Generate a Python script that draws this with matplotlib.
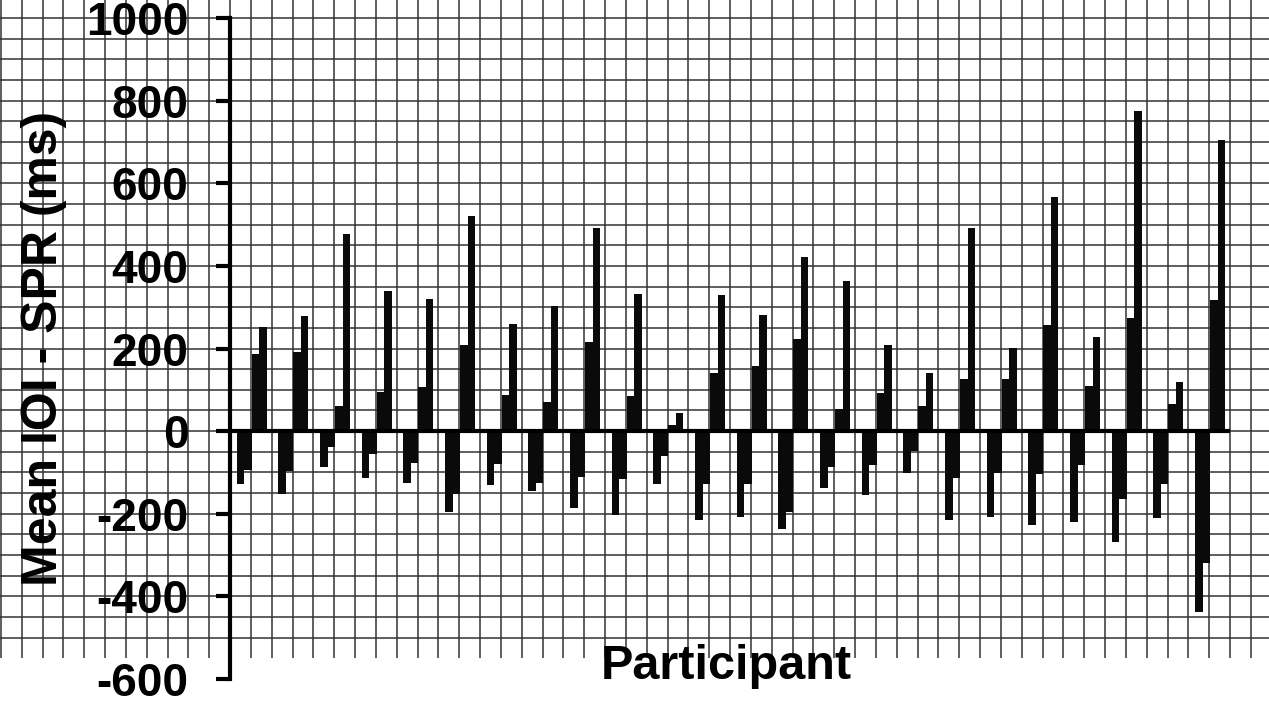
import numpy as np
import matplotlib
matplotlib.use('Agg')
import matplotlib.pyplot as plt

plt.rcParams['font.family'] = ['Liberation Sans', 'DejaVu Sans']
plt.rcParams['font.weight'] = 'bold'
plt.rcParams['axes.unicode_minus'] = False

# one group of four bars per participant
participants = list(range(1, 25))
bar1 = [-128, -153, -86, -113, -125, -195, -131, -144, -185, -203, -129, -215,
        -207, -236, -137, -155, -102, -214, -207, -228, -220, -268, -211, -437]
bar2 = [-94, -96, -38, -56, -77, -151, -80, -125, -111, -116, -61, -129,
        -128, -195, -88, -81, -48, -113, -101, -104, -82, -164, -128, -319]
bar3 = [186, 192, 61, 94, 107, 208, 87, 71, 216, 85, 15, 141,
        157, 223, 54, 93, 62, 125, 127, 258, 109, 273, 65, 317]
bar4 = [252, 279, 477, 339, 320, 521, 259, 303, 491, 332, 44, 329,
        280, 422, 363, 209, 141, 491, 202, 567, 228, 775, 119, 705]
yticks = [-600, -400, -200, 0, 200, 400, 600, 800, 1000]

fig = plt.figure(figsize=(12.69, 7.16), dpi=100)
ax = fig.add_axes([230 / 1269, 1 - 679 / 716, 1000 / 1269, 661 / 716])
ax.set_facecolor('none')

x = np.arange(len(participants))
w = 0.18
for i, vals in enumerate([bar1, bar2, bar3, bar4]):
    ax.bar(x + (i - 1.5) * w + 0.02, vals, width=w, color='#0a0a0a',
           edgecolor='none', zorder=2)

ax.set_xlim(-0.5, len(participants) - 0.5)
ax.set_ylim(-600, 1000)

# graph-paper background reaching past the axes
gx = np.arange(-6.5, 25.01, 0.5)
gy = np.arange(-500, 1151, 50)
ax.vlines(gx, -550, 1150, colors='#333333', lw=1.1, clip_on=False, zorder=0.5)
ax.hlines(gy, -7, 26, colors='#333333', lw=1.1, clip_on=False, zorder=0.5)

ax.axhline(0, color='black', lw=3, zorder=3)

for s in ['top', 'right', 'bottom']:
    ax.spines[s].set_visible(False)
ax.spines['left'].set_linewidth(3)
ax.set_xticks([])
ax.set_yticks(yticks)
ax.tick_params(axis='y', length=10, width=3, pad=20, labelsize=33)
for lab in ax.get_yticklabels():
    lab.set_fontweight('bold')

ax.set_ylabel('Mean IOI - SPR (ms)', fontsize=36, fontweight='bold')
ax.yaxis.set_label_coords(-0.163, 0.5)
ax.set_xlabel('Participant', fontsize=35, fontweight='bold')
ax.xaxis.label.set_va('baseline')
ax.xaxis.set_label_coords(0.496, 0.0)

fig.savefig('out.png', dpi=100)
